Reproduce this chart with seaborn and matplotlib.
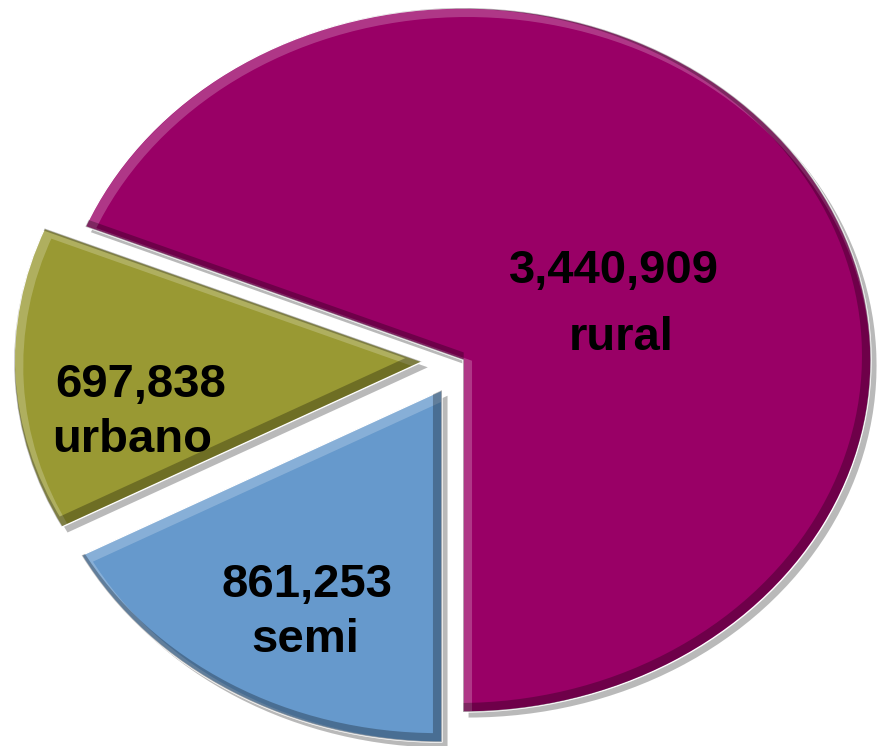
import matplotlib
matplotlib.use("Agg")
import matplotlib.pyplot as plt
import matplotlib.patheffects as pe
from matplotlib.patches import PathPatch
from matplotlib.transforms import ScaledTranslation
import seaborn as sns

# ------ DATA ------ #

labels = ["rural", "urbano", "semi"]
values = [3440909, 697838, 861253]
colors = ["#990066", "#999933", "#6699cc"]
explode = [0.0, 0.1, 0.1]

# ------ STYLE ------ #

sns.set_theme(style="white")
plt.rcParams['font.family'] = ['Liberation Sans', 'DejaVu Sans']

W, H = 884, 746
CX, CY = 463, 360      # pie centre in pixels (from top-left)
RX, RY = 408, 352      # horizontal / vertical radius in pixels

fig = plt.figure(figsize=(W / 100, H / 100), dpi=100)
ax = fig.add_axes([0, 0, 1, 1])

wedges, _ = ax.pie(values, explode=explode, colors=colors,
                   startangle=270, counterclock=True, radius=1)

ax.set_aspect('auto')
ax.set_xlim(-CX / RX, (W - CX) / RX)
ax.set_ylim(-(H - CY) / RY, CY / RY)
ax.axis('off')

# ------ BEVEL + SHADOW ------ #

def add_bevel(w):
    w.set_path_effects([
        pe.SimplePatchShadow(offset=(4, -4), shadow_rgbFace='k', alpha=0.3),
        pe.Normal()
    ])
    # light rim on top-left, dark rim on bottom-right (inside the wedge)
    for col, alpha, lw, dx in [("white", 0.22, 7, 3), ("black", 0.28, 7, -3)]:
        off = ScaledTranslation(dx / 72, -dx / 72, fig.dpi_scale_trans)
        rim = PathPatch(w.get_path(), transform=w.get_transform() + off,
                        facecolor='none', edgecolor=col, lw=lw, alpha=alpha)
        ax.add_patch(rim)
        rim.set_clip_path(w)

for w in wedges:
    add_bevel(w)

# ------ TEXT ------ #

def px(x, y):
    return (x - CX) / RX, (CY - y) / RY

# (centre x, baseline y) in pixels for value line and name line
text_pos = {
    "rural": [(614, 283), (621, 350)],
    "urbano": [(141, 397), (132, 452)],
    "semi": [(307, 597), (305, 652)],
}

for lab, val in zip(labels, values):
    (nx, ny), (lx, ly) = text_pos[lab]
    ax.text(*px(nx, ny), f"{val:,}", ha='center', va='baseline',
            fontsize=34, fontweight='bold', color='black')
    ax.text(*px(lx, ly), lab, ha='center', va='baseline',
            fontsize=34, fontweight='bold', color='black')

fig.savefig("out.png", dpi=100)
